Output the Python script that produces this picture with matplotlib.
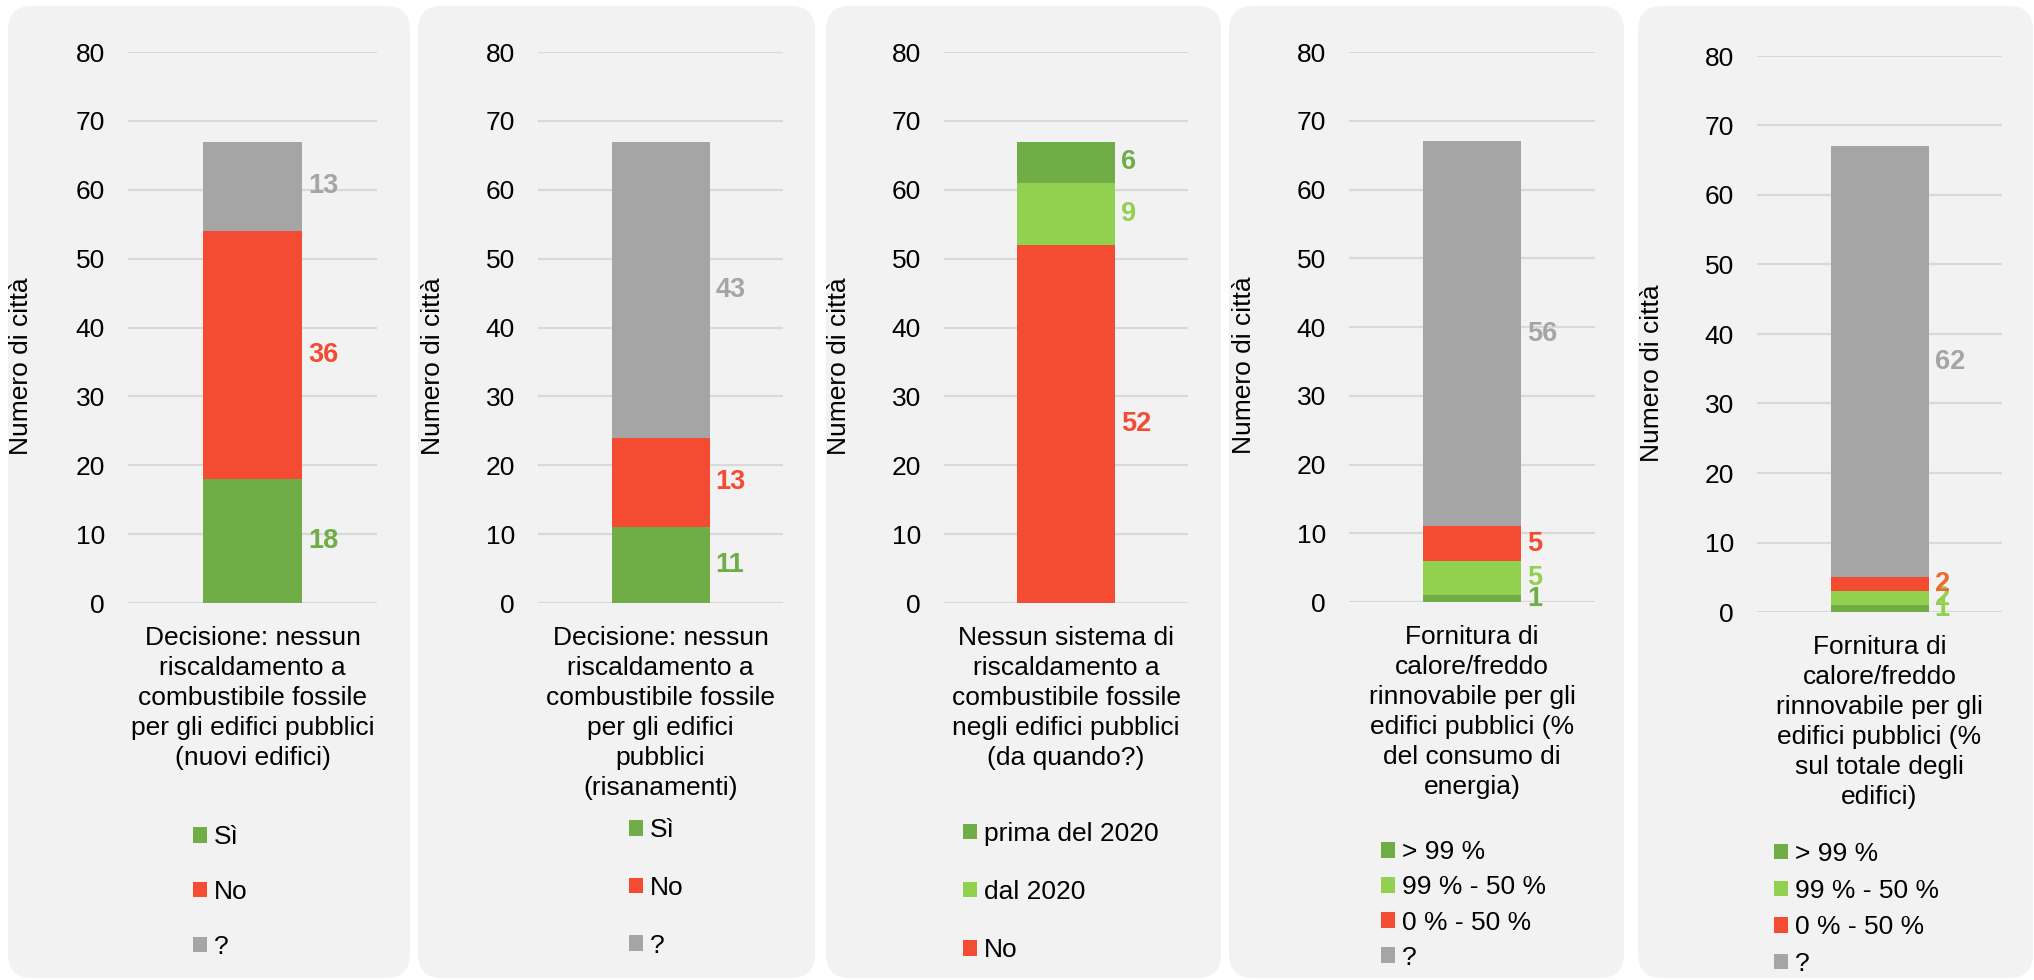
import matplotlib.pyplot as plt
from matplotlib.patches import FancyBboxPatch, Patch
from matplotlib.transforms import IdentityTransform

plt.rcParams['font.family'] = ['Liberation Sans', 'DejaVu Sans']

W, H = 2034, 980

verde_scuro = '#70AD47'
verde_chiaro = '#92D050'
rosso = '#F44B33'
grigio = '#A5A5A5'
arancio = '#EB6A2C'

# --- dati (dal basso verso l'alto nella colonna) ---
cat1 = "Decisione: nessun\nriscaldamento a\ncombustibile fossile\nper gli edifici pubblici\n(nuovi edifici)"
serie1 = ['Sì', 'No', '?']
valori1 = [18, 36, 13]

cat2 = "Decisione: nessun\nriscaldamento a\ncombustibile fossile\nper gli edifici\npubblici\n(risanamenti)"
serie2 = ['Sì', 'No', '?']
valori2 = [11, 13, 43]

cat3 = "Nessun sistema di\nriscaldamento a\ncombustibile fossile\nnegli edifici pubblici\n(da quando?)"
serie3 = ['No', 'dal 2020', 'prima del 2020']
valori3 = [52, 9, 6]

cat4 = "Fornitura di\ncalore/freddo\nrinnovabile per gli\nedifici pubblici (%\ndel consumo di\nenergia)"
serie4 = ['> 99 %', '99 % - 50 %', '0 % - 50 %', '?']
valori4 = [1, 5, 5, 56]

cat5 = "Fornitura di\ncalore/freddo\nrinnovabile per gli\nedifici pubblici (%\nsul totale degli\nedifici)"
serie5 = ['> 99 %', '99 % - 50 %', '0 % - 50 %', '?']
valori5 = [1, 2, 2, 62]

yticks = [0, 10, 20, 30, 40, 50, 60, 70, 80]

pannelli = [
    dict(cat=cat1, serie=serie1, val=valori1,
         col=[verde_scuro, rosso, grigio], lab=[verde_scuro, rosso, grigio],
         ordine=[0, 1, 2]),
    dict(cat=cat2, serie=serie2, val=valori2,
         col=[verde_scuro, rosso, grigio], lab=[verde_scuro, rosso, grigio],
         ordine=[0, 1, 2]),
    dict(cat=cat3, serie=serie3, val=valori3,
         col=[rosso, verde_chiaro, verde_scuro], lab=[rosso, verde_chiaro, verde_scuro],
         ordine=[2, 1, 0]),
    dict(cat=cat4, serie=serie4, val=valori4,
         col=[verde_scuro, verde_chiaro, rosso, grigio], lab=[verde_scuro, verde_chiaro, rosso, grigio],
         ordine=[0, 1, 2, 3]),
    dict(cat=cat5, serie=serie5, val=valori5,
         col=[verde_scuro, verde_chiaro, rosso, grigio], lab=[verde_chiaro, verde_chiaro, arancio, grigio],
         ordine=[0, 1, 2, 3]),
]

# layout in pixel: sfondo (x0, x1), assi (sinistra, destra, y dello 0, y dell'80), legenda (x, y centro, spaziatura)
sfondi = [(8, 410), (418, 815), (826, 1221), (1229, 1624), (1638, 2033)]
assi = [(128, 377, 603, 52), (538, 783, 603, 52), (944, 1188, 603, 52),
        (1349, 1595, 602, 52), (1757, 2002, 612, 56)]
legende = [(193, 892, 1.17), (629, 888, 1.27), (963, 892, 1.3),
           (1381, 905, 0.42), (1774, 909, 0.48)]

fig = plt.figure(figsize=(W / 100, H / 100), dpi=100)

for (x0, x1) in sfondi:
    # coordinate in pixel dal basso
    bg = FancyBboxPatch((x0, H - 978), x1 - x0, 978 - 6,
                        boxstyle="round,pad=0,rounding_size=24",
                        transform=IdentityTransform(), facecolor='#F2F2F2',
                        edgecolor='none', zorder=-5)
    fig.patches.append(bg)

for p, (l, r_, y0, y80), (lx, ly, lsp) in zip(pannelli, assi, legende):
    ax = fig.add_axes([l / W, 1 - y0 / H, (r_ - l) / W, (y0 - y80) / H])
    ax.set_facecolor('none')
    ax.set_xlim(-0.5, 0.5)
    ax.set_ylim(0, 80)
    ax.set_yticks(yticks)
    ax.set_xticks([])
    ax.tick_params(axis='y', length=0, pad=16.5, labelsize=19)
    ax.grid(axis='y', color='#D9D9D9', linewidth=1.6, zorder=0)
    ax.set_axisbelow(True)
    for s in ax.spines.values():
        s.set_visible(False)
    ax.set_ylabel('Numero di città', fontsize=19)
    ax.yaxis.set_label_coords(-0.38, 0.43)

    base = 0
    for v, c, lc in zip(p['val'], p['col'], p['lab']):
        ax.bar(0, v, width=0.4, bottom=base, color=c, zorder=2)
        ax.annotate(str(v), xy=(0.2, base + v / 2), xytext=(6, 0),
                    textcoords='offset pixels', ha='left', va='center',
                    fontsize=19.5, fontweight='bold', color=lc, zorder=3)
        base += v

    ax.annotate(p['cat'], xy=(0.5, 0), xycoords='axes fraction',
                xytext=(0, -23), textcoords='offset pixels',
                ha='center', va='top', fontsize=19, linespacing=1.32)

    handles = [Patch(facecolor=p['col'][i]) for i in p['ordine']]
    labels = [p['serie'][i] for i in p['ordine']]
    ax.legend(handles, labels, loc='center left',
              bbox_to_anchor=(lx / W, 1 - ly / H), bbox_transform=fig.transFigure,
              frameon=False, fontsize=19, handlelength=0.53, handleheight=0.53,
              handletextpad=0.25, labelspacing=lsp, borderpad=0, borderaxespad=0)

fig.savefig('out.png', dpi=100, facecolor='white')
